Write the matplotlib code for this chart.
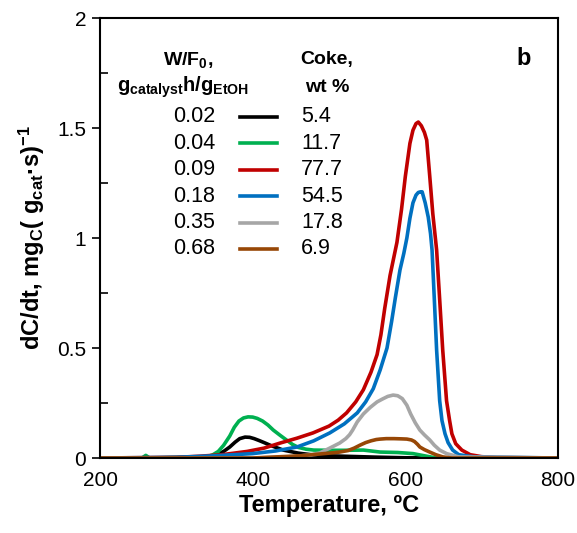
import matplotlib
matplotlib.use("Agg")
import matplotlib.pyplot as plt
from matplotlib.ticker import MultipleLocator

plt.rcParams['font.family'] = ['Liberation Sans', 'DejaVu Sans']
plt.rcParams['mathtext.fontset'] = 'custom'
plt.rcParams['mathtext.rm'] = 'Liberation Sans'
plt.rcParams['mathtext.bf'] = 'Liberation Sans:bold'
plt.rcParams['mathtext.default'] = 'bf'

# W/F0 values and coke content for each run
wf_labels = ["0.02", "0.04", "0.09", "0.18", "0.35", "0.68"]
coke_labels = ["5.4", "11.7", "77.7", "54.5", "17.8", "6.9"]
colors = ["#000000", "#00B050", "#C00000", "#0070C0", "#A6A6A6", "#974706"]

# TPO curves (temperature in C, dC/dt)
t_002 = [200, 330, 345, 355, 362, 370, 377, 383, 390, 396, 402, 408, 415, 425, 440, 460, 479, 500, 530, 560, 600, 800]
y_002 = [0, 0.002, 0.008, 0.018, 0.03, 0.05, 0.072, 0.088, 0.095, 0.094, 0.088, 0.08, 0.07, 0.055, 0.036, 0.022, 0.014, 0.01, 0.007, 0.004, 0.001, 0]

t_004 = [200, 255, 260, 265, 340, 348, 355, 362, 370, 376, 382, 388, 394, 400, 406, 413, 420, 427, 436, 445, 452, 460, 470, 480, 500, 520, 545, 567, 590, 610, 625, 636, 660, 800]
y_004 = [0, 0, 0.012, 0, 0.005, 0.015, 0.03, 0.058, 0.1, 0.14, 0.168, 0.182, 0.187, 0.186, 0.18, 0.168, 0.15, 0.127, 0.103, 0.08, 0.062, 0.048, 0.04, 0.036, 0.035, 0.035, 0.036, 0.027, 0.025, 0.02, 0.01, 0.003, 0, 0]

t_009 = [200, 300, 330, 360, 393, 415, 436, 458, 479, 500, 512, 523, 535, 545, 555, 563, 568, 573, 580, 589, 595, 600, 606, 610, 614, 617, 621, 625, 628, 632, 636, 641, 645, 649, 654, 658, 661, 666, 674, 685, 700, 720, 800]
y_009 = [0, 0.003, 0.008, 0.015, 0.03, 0.045, 0.068, 0.09, 0.114, 0.145, 0.172, 0.205, 0.255, 0.31, 0.39, 0.47, 0.56, 0.68, 0.83, 0.98, 1.13, 1.28, 1.43, 1.49, 1.52, 1.527, 1.51, 1.48, 1.445, 1.28, 1.11, 0.945, 0.72, 0.49, 0.26, 0.17, 0.11, 0.065, 0.036, 0.015, 0.006, 0.002, 0]

t_018 = [200, 300, 350, 400, 430, 458, 480, 501, 520, 537, 548, 558, 567, 576, 582, 587, 593, 598, 602, 606, 610, 614, 617, 620, 622, 626, 630, 633, 635, 638, 641, 645, 648, 652, 656, 662, 670, 690, 800]
y_018 = [0, 0.003, 0.01, 0.02, 0.032, 0.05, 0.078, 0.114, 0.155, 0.205, 0.255, 0.315, 0.40, 0.50, 0.62, 0.73, 0.855, 0.93, 1.0, 1.09, 1.16, 1.195, 1.207, 1.21, 1.21, 1.16, 1.095, 1.02, 0.945, 0.72, 0.49, 0.26, 0.17, 0.11, 0.07, 0.036, 0.015, 0.005, 0]

t_035 = [200, 400, 450, 475, 488, 501, 514, 522, 527, 531, 537, 545, 554, 563, 570, 577, 584, 590, 596, 602, 607, 613, 619, 625, 632, 638, 645, 654, 670, 800]
y_035 = [0, 0, 0.005, 0.014, 0.023, 0.045, 0.068, 0.088, 0.106, 0.127, 0.164, 0.2, 0.23, 0.255, 0.268, 0.28, 0.286, 0.283, 0.27, 0.24, 0.2, 0.16, 0.127, 0.105, 0.082, 0.058, 0.036, 0.02, 0.005, 0]

t_068 = [200, 400, 462, 500, 514, 525, 533, 541, 548, 555, 562, 567, 575, 585, 595, 602, 608, 612, 616, 619, 625, 632, 640, 649, 660, 800]
y_068 = [0, 0, 0.01, 0.022, 0.027, 0.034, 0.045, 0.059, 0.07, 0.078, 0.084, 0.086, 0.088, 0.088, 0.087, 0.086, 0.082, 0.075, 0.062, 0.05, 0.038, 0.027, 0.015, 0.005, 0, 0]

temps = [t_002, t_004, t_009, t_018, t_035, t_068]
rates = [y_002, y_004, y_009, y_018, y_035, y_068]

fig = plt.figure(figsize=(5.77, 5.33), dpi=100)
ax = fig.add_axes([100 / 577, 75 / 533, 458 / 577, 440 / 533])

for i in range(6):
    ax.plot(temps[i], rates[i], color=colors[i], lw=2.6, solid_joinstyle='round')

ax.set_xlim(200, 800)
ax.set_ylim(0, 2)
ax.xaxis.set_major_locator(MultipleLocator(200))
ax.yaxis.set_major_locator(MultipleLocator(0.5))
ax.yaxis.set_minor_locator(MultipleLocator(0.25))
ax.tick_params(axis='x', length=0, labelsize=15, pad=9)
ax.tick_params(axis='y', which='major', direction='out', length=6, width=1.2, labelsize=15, pad=4)
ax.tick_params(axis='y', which='minor', direction='in', length=6, width=1.2)
ax.yaxis.set_major_formatter(plt.FuncFormatter(lambda v, p: f"{v:g}"))
for s in ax.spines.values():
    s.set_linewidth(1.5)

ax.set_xlabel("Temperature, ºC", fontsize=17, fontweight='bold', labelpad=3)
ax.set_ylabel(r"dC/dt, mg$_C$( g$_{cat}$·s)$^{-1}$", fontsize=17, fontweight='bold', labelpad=7)

# hand-made legend: W/F0 | line | coke
ax.text(0.192, 0.905, r"W/F$_0$,", transform=ax.transAxes, ha='center', va='center',
        fontsize=14, fontweight='bold')
ax.text(0.181, 0.842, r"g$_{catalyst}$h/g$_{EtOH}$", transform=ax.transAxes, ha='center', va='center',
        fontsize=14.5, fontweight='bold')
ax.text(0.496, 0.905, "Coke,", transform=ax.transAxes, ha='center', va='center',
        fontsize=14, fontweight='bold')
ax.text(0.496, 0.842, "wt %", transform=ax.transAxes, ha='center', va='center',
        fontsize=14, fontweight='bold')
for i in range(6):
    yy = 0.775 - i * 0.06
    ax.text(0.251, yy, wf_labels[i], transform=ax.transAxes, ha='right', va='center', fontsize=15.5)
    ax.plot([0.306, 0.386], [yy, yy], transform=ax.transAxes, color=colors[i], lw=2.6)
    ax.text(0.439, yy, coke_labels[i], transform=ax.transAxes, ha='left', va='center', fontsize=15.5)

ax.text(0.924, 0.909, "b", transform=ax.transAxes, ha='center', va='center',
        fontsize=17, fontweight='bold')

fig.savefig("out.png", dpi=100)
